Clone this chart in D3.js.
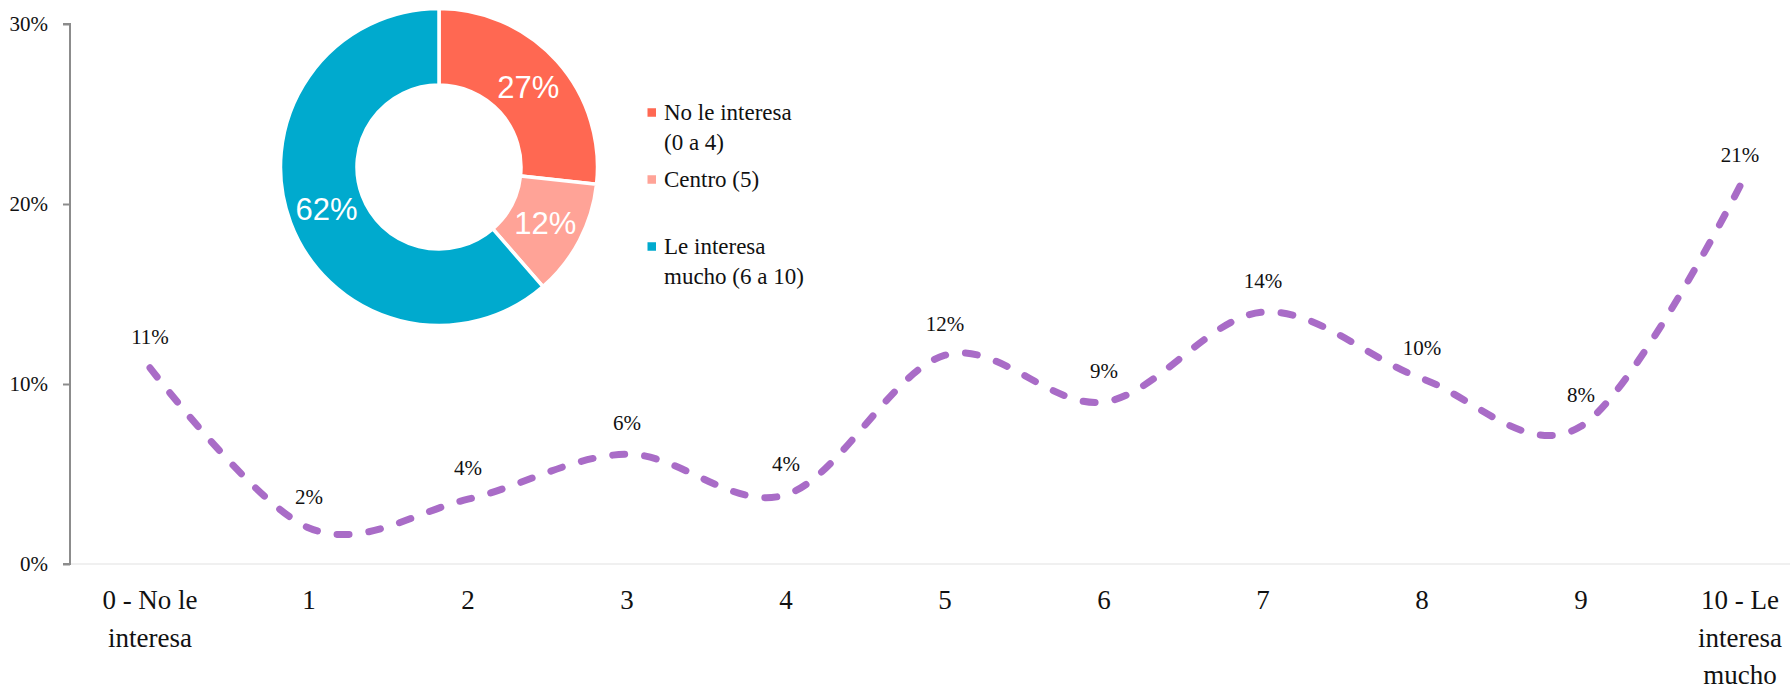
<!DOCTYPE html>
<html>
<head>
<meta charset="utf-8">
<script src="https://cdn.jsdelivr.net/npm/d3@7"></script>
<style>
  html, body { margin: 0; padding: 0; background: #fff; }
  svg { display: block; }
</style>
</head>
<body>
<svg id="chart" width="1790" height="686"></svg>
<script>
// ---- data ----
const categories = ["0 - No le interesa", "1", "2", "3", "4", "5", "6", "7", "8", "9", "10 - Le interesa mucho"];
const values = [0.109, 0.020, 0.036, 0.061, 0.0385, 0.116, 0.090, 0.140, 0.103, 0.0765, 0.210];
const yTicks = [0, 0.1, 0.2, 0.3];

const donutNames = ["No le interesa (0 a 4)", "Centro (5)", "Le interesa mucho (6 a 10)"];
const donutLegendLines = [["No le interesa", "(0 a 4)"], ["Centro (5)"], ["Le interesa", "mucho (6 a 10)"]];
const donutValues = [27, 12, 62];
const donutColors = ["#FF6852", "#FFA397", "#00AACE"];

// ---- setup ----
const svg = d3.select("#chart");
const serif = "'Liberation Serif', 'Times New Roman', serif";
const sans = "'Liberation Sans', Arial, sans-serif";

const x = d3.scalePoint().domain(categories).range([150, 1740]);
const y = d3.scaleLinear().domain([0, 0.3]).range([564, 24]);
const pct = d3.format(".0%");

// x axis baseline (very light)
svg.append("line")
  .attr("x1", 70).attr("x2", 1790)
  .attr("y1", y(0)).attr("y2", y(0))
  .attr("stroke", "#F0F0F0").attr("stroke-width", 2);

// y axis
const yAxis = d3.axisLeft(y).tickValues(yTicks).tickFormat(pct).tickSize(7).tickPadding(15);
const gy = svg.append("g").attr("transform", "translate(70,0)").call(yAxis);
gy.select(".domain").attr("stroke", "#8C8C8C").attr("stroke-width", 2)
  .attr("d", `M-7,${y(0.3)}H0V${y(0)}H-7`);
gy.selectAll(".tick line").attr("stroke", "#8C8C8C").attr("stroke-width", 2);
gy.selectAll(".tick text")
  .attr("font-family", serif).attr("font-size", 21).attr("fill", "#111")
  .attr("dy", "0.33em");

// x category labels with wrapping
const gx = svg.append("g");
const maxW = 105, lineH = 37.7;
categories.forEach(c => {
  const t = gx.append("text")
    .attr("x", x(c)).attr("y", 609)
    .attr("text-anchor", "middle")
    .attr("font-family", serif).attr("font-size", 27).attr("fill", "#111");
  const words = c.split(" ");
  let line = [];
  let tspan = t.append("tspan").attr("x", x(c)).attr("dy", 0);
  words.forEach(w => {
    line.push(w);
    tspan.text(line.join(" "));
    if (tspan.node().getComputedTextLength() > maxW && line.length > 1) {
      line.pop();
      tspan.text(line.join(" "));
      line = [w];
      tspan = t.append("tspan").attr("x", x(c)).attr("dy", lineH).text(w);
    }
  });
});

// line
const lineGen = d3.line()
  .x((d, i) => x(categories[i]))
  .y(d => y(d))
  .curve(d3.curveCardinal.tension(0));
svg.append("path")
  .datum(values)
  .attr("d", lineGen)
  .attr("fill", "none")
  .attr("stroke", "#A96CC7")
  .attr("stroke-width", 7)
  .attr("stroke-linecap", "round")
  .attr("stroke-dasharray", "12,20");

// data labels
svg.append("g").selectAll("text")
  .data(values)
  .join("text")
  .attr("x", (d, i) => x(categories[i]))
  .attr("y", d => y(d) - 24)
  .attr("text-anchor", "middle")
  .attr("font-family", serif).attr("font-size", 21).attr("fill", "#111")
  .text(d => pct(d));

// ---- donut ----
const cx = 439, cy = 167, rOuter = 158.5, rInner = 82;
const pie = d3.pie().sort(null).value(d => d)(donutValues);
const arc = d3.arc().innerRadius(rInner).outerRadius(rOuter);
const labelArc = d3.arc().innerRadius(120).outerRadius(120);
const gd = svg.append("g").attr("transform", `translate(${cx},${cy})`);
gd.selectAll("path")
  .data(pie)
  .join("path")
  .attr("d", arc)
  .attr("fill", (d, i) => donutColors[i])
  .attr("stroke", "#fff")
  .attr("stroke-width", 3.5)
  .attr("stroke-linejoin", "miter");
gd.selectAll("text")
  .data(pie)
  .join("text")
  .attr("transform", d => `translate(${labelArc.centroid(d)})`)
  .attr("text-anchor", "middle")
  .attr("dy", "0.36em")
  .attr("font-family", sans).attr("font-size", 31).attr("fill", "#fff")
  .text(d => d.value + "%");

// legend
const gl = svg.append("g");
donutNames.forEach((name, i) => {
  const cyL = 112.5 + i * 67;
  gl.append("rect")
    .attr("x", 647.5).attr("y", cyL - 4.25)
    .attr("width", 8.5).attr("height", 8.5)
    .attr("fill", donutColors[i]);
  const t = gl.append("text")
    .attr("x", 664).attr("y", cyL + 7.5)
    .attr("font-family", serif).attr("font-size", 23).attr("fill", "#111");
  donutLegendLines[i].forEach((ln, j) => {
    t.append("tspan").attr("x", 664).attr("dy", j === 0 ? 0 : 30).text(ln);
  });
});
</script>
</body>
</html>
